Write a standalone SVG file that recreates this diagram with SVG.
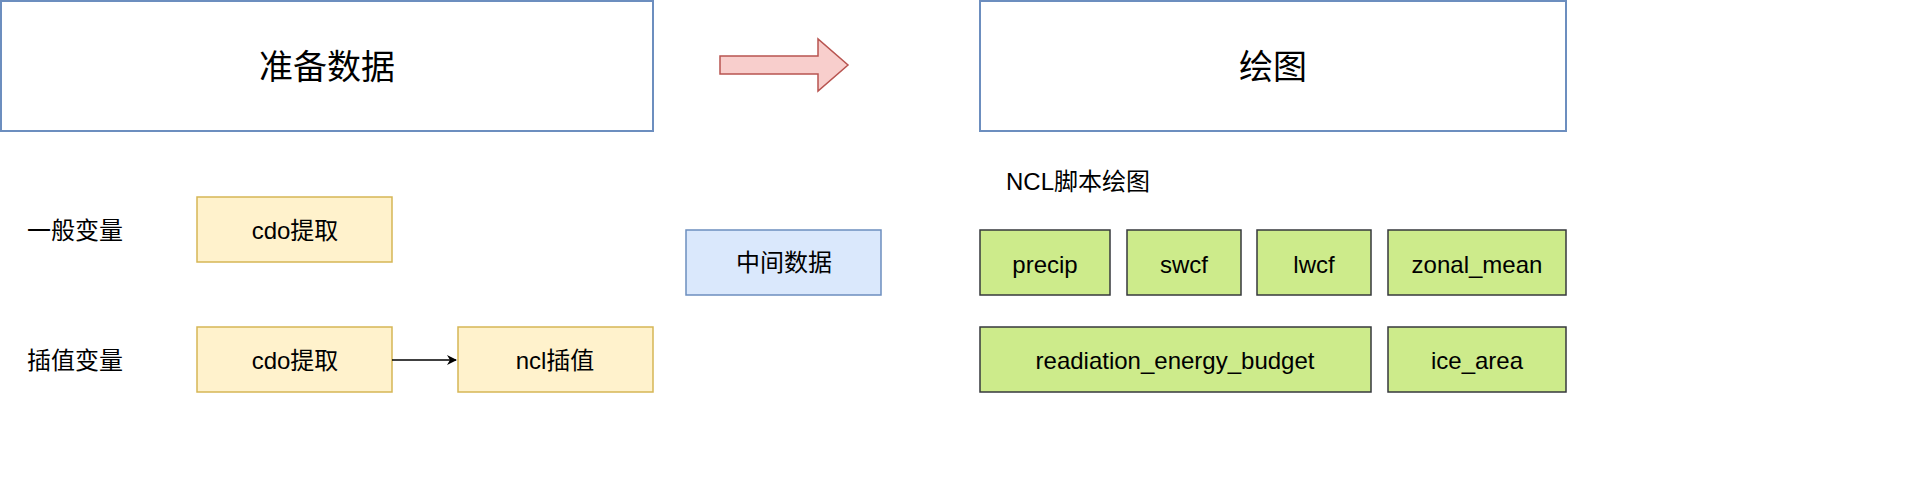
<svg xmlns="http://www.w3.org/2000/svg" width="1922" height="490" viewBox="0 0 1922 490">
<style>
text{font-family:"Liberation Sans","Noto Sans CJK SC",sans-serif;fill:#000;text-anchor:middle;dominant-baseline:central}
.big{fill:#fff;stroke:#6c8ebf;stroke-width:2}
.y{fill:#fff2cc;stroke:#d6b656;stroke-width:1.5}
.b{fill:#dae8fc;stroke:#6c8ebf;stroke-width:1.5}
.g{fill:#cdeb8b;stroke:#36393d;stroke-width:1.5}
.t{font-size:24px}
</style>
<defs><marker id="a" markerWidth="10" markerHeight="10" refX="9" refY="5" orient="auto" markerUnits="userSpaceOnUse"><path d="M0,0L10,5L0,10L3,5Z" fill="#000"/></marker></defs>
<g id="n1"><rect class="big" x="1" y="1" width="652" height="130"/><text x="327" y="67" font-size="34">准备数据</text></g>
<g id="n2"><rect class="big" x="980" y="1" width="586" height="130"/><text x="1273" y="67" font-size="34">绘图</text></g>
<g id="arrow"><path d="M720,56H818V39L848,65L818,91V74H720Z" fill="#f8cecc" stroke="#b85450" stroke-width="1.5"/></g>
<g id="l1"><text class="t" x="75" y="230">一般变量</text></g>
<g id="l2"><text class="t" x="75" y="360">插值变量</text></g>
<g id="l3"><text class="t" x="1078" y="181">NCL脚本绘图</text></g>
<g id="c1"><rect class="y" x="197" y="197" width="195" height="65"/><text class="t" x="295" y="230">cdo提取</text></g>
<g id="c2"><rect class="y" x="197" y="327" width="195" height="65"/><text class="t" x="295" y="360">cdo提取</text></g>
<g id="c3"><rect class="y" x="458" y="327" width="195" height="65"/><text class="t" x="555" y="360">ncl插值</text></g>
<g id="m"><rect class="b" x="686" y="230" width="195" height="65"/><text class="t" x="784" y="262">中间数据</text></g>
<g id="p1"><rect class="g" x="980" y="230" width="130" height="65"/><text class="t" x="1045" y="264">precip</text></g>
<g id="p2"><rect class="g" x="1127" y="230" width="114" height="65"/><text class="t" x="1184" y="264">swcf</text></g>
<g id="p3"><rect class="g" x="1257" y="230" width="114" height="65"/><text class="t" x="1314" y="264">lwcf</text></g>
<g id="p4"><rect class="g" x="1388" y="230" width="178" height="65"/><text class="t" x="1477" y="264">zonal_mean</text></g>
<g id="p5"><rect class="g" x="980" y="327" width="391" height="65"/><text class="t" x="1175" y="360">readiation_energy_budget</text></g>
<g id="p6"><rect class="g" x="1388" y="327" width="178" height="65"/><text class="t" x="1477" y="360">ice_area</text></g>
<g id="edges"><path d="M392,360H456" stroke="#000" stroke-width="1.5" fill="none" marker-end="url(#a)"/></g>
</svg>
